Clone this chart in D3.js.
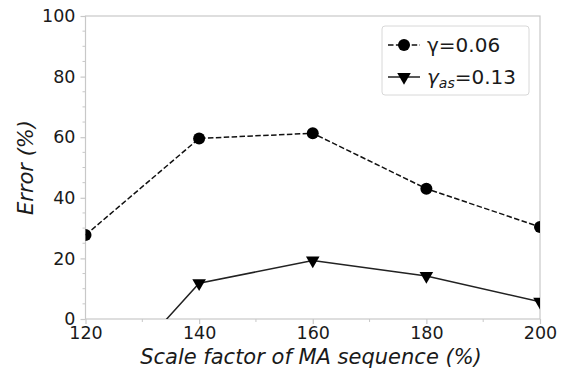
<!DOCTYPE html>
<html>
<head>
<meta charset="utf-8">
<script src="https://cdn.jsdelivr.net/npm/d3@7"></script>
<style>
  body { margin: 0; background: #fff; }
  text { font-family: "DejaVu Sans", sans-serif; fill: #1a1a1a; }
</style>
</head>
<body>
<script>
// values
var scaleFactor = [120, 140, 160, 180, 200];
var errGamma = [27.7, 59.6, 61.3, 43.0, 30.4];      // γ=0.06, dashed, circles
var errGammaAs = [-29.6, 11.8, 19.3, 14.2, 5.7];    // γ_as=0.13, solid, triangles
var xTicks = [120, 140, 160, 180, 200];
var yTicks = [0, 20, 40, 60, 80, 100];

var W = 564, H = 376;
var margin = {top: 16, right: 24, bottom: 57, left: 85.5};

var svg = d3.select("body").append("svg")
    .attr("width", W)
    .attr("height", H);

var xScale = d3.scaleLinear().domain([120, 200]).range([margin.left, W - margin.right]);
var yScale = d3.scaleLinear().domain([0, 100]).range([H - margin.bottom, margin.top]);

var spine = "#c8c8c8";

// clip to the plot box (markers at the edges are cut in half)
svg.append("defs").append("clipPath").attr("id", "plotclip")
  .append("rect")
    .attr("x", xScale(120)).attr("y", yScale(100))
    .attr("width", xScale(200) - xScale(120))
    .attr("height", yScale(0) - yScale(100));

// frame
svg.append("rect")
    .attr("x", xScale(120)).attr("y", yScale(100))
    .attr("width", xScale(200) - xScale(120))
    .attr("height", yScale(0) - yScale(100))
    .attr("fill", "none")
    .attr("stroke", spine)
    .attr("stroke-width", 1.2);

// minor ticks
var gx = svg.append("g").attr("transform", "translate(0," + yScale(0) + ")");
gx.selectAll("line.minor").data([130, 150, 170, 190]).enter().append("line")
    .attr("x1", function(d) { return xScale(d); }).attr("x2", function(d) { return xScale(d); })
    .attr("y1", 0).attr("y2", 3)
    .attr("stroke", spine).attr("stroke-width", 1);
var gy = svg.append("g").attr("transform", "translate(" + xScale(120) + ",0)");
gy.selectAll("line.minor").data(d3.range(5, 100, 5).filter(function(v) { return v % 20 != 0; })).enter().append("line")
    .attr("y1", function(d) { return yScale(d); }).attr("y2", function(d) { return yScale(d); })
    .attr("x1", 0).attr("x2", -3)
    .attr("stroke", spine).attr("stroke-width", 1);

// major axes
var xAxis = d3.axisBottom(xScale).tickValues(xTicks).tickSize(5).tickPadding(3).tickSizeOuter(0);
var yAxis = d3.axisLeft(yScale).tickValues(yTicks).tickSize(5).tickPadding(5).tickSizeOuter(0);

gx.call(xAxis);
gy.call(yAxis);
[gx, gy].forEach(function(g) {
    g.select(".domain").remove();
    g.selectAll(".tick line").attr("stroke", spine).attr("stroke-width", 1.2);
    g.selectAll(".tick text")
        .attr("fill", "#1a1a1a")
        .style("font-family", "'DejaVu Sans', sans-serif")
        .style("font-size", "17.5px");
});

// lines
var lineGen = d3.line()
    .x(function(d) { return xScale(d[0]); })
    .y(function(d) { return yScale(d[1]); });

var plot = svg.append("g").attr("clip-path", "url(#plotclip)");

var s1 = scaleFactor.map(function(x, i) { return [x, errGamma[i]]; });
var s2 = scaleFactor.map(function(x, i) { return [x, errGammaAs[i]]; });

plot.append("path")
    .attr("d", lineGen(s1))
    .attr("fill", "none")
    .attr("stroke", "#111")
    .attr("stroke-width", 1.5)
    .attr("stroke-dasharray", "5.5,2.4");

plot.append("path")
    .attr("d", lineGen(s2))
    .attr("fill", "none")
    .attr("stroke", "#222")
    .attr("stroke-width", 1.5);

plot.selectAll("circle.m").data(s1).enter().append("circle")
    .attr("cx", function(d) { return xScale(d[0]); })
    .attr("cy", function(d) { return yScale(d[1]); })
    .attr("r", 6)
    .attr("fill", "#000");

var tri = d3.symbol().type(d3.symbolTriangle).size(80);
plot.selectAll("path.t").data(s2).enter().append("path")
    .attr("d", tri)
    .attr("transform", function(d) { return "translate(" + xScale(d[0]) + "," + yScale(d[1]) + ") rotate(180)"; })
    .attr("fill", "#000");

// axis labels
svg.append("text")
    .attr("x", 311)
    .attr("y", 364)
    .attr("text-anchor", "middle")
    .style("font-size", "21px")
    .style("font-style", "italic")
    .text("Scale factor of MA sequence (%)");

svg.append("text")
    .attr("transform", "translate(33," + ((yScale(0) + yScale(100)) / 2) + ") rotate(-90)")
    .attr("text-anchor", "middle")
    .style("font-size", "21px")
    .style("font-style", "italic")
    .text("Error (%)");

// legend
var lg = svg.append("g").attr("transform", "translate(382,26)");
lg.append("rect")
    .attr("width", 147).attr("height", 69)
    .attr("rx", 3)
    .attr("fill", "#fff")
    .attr("stroke", "#d8d8d8")
    .attr("stroke-width", 1);

lg.append("line")
    .attr("x1", 6).attr("x2", 38).attr("y1", 19).attr("y2", 19)
    .attr("stroke", "#111").attr("stroke-width", 1.5)
    .attr("stroke-dasharray", "5.5,2.4");
lg.append("circle").attr("cx", 22).attr("cy", 19).attr("r", 6).attr("fill", "#000");
lg.append("text").attr("x", 45).attr("y", 26).style("font-size", "20px").text("γ=0.06");

lg.append("line")
    .attr("x1", 6).attr("x2", 38).attr("y1", 51).attr("y2", 51)
    .attr("stroke", "#222").attr("stroke-width", 1.5);
lg.append("path").attr("d", tri).attr("transform", "translate(22,51) rotate(180)").attr("fill", "#000");
var t2 = lg.append("text").attr("x", 45).attr("y", 58).style("font-size", "20px");
t2.append("tspan").style("font-style", "italic").text("γ");
t2.append("tspan").style("font-style", "italic").style("font-size", "14px").attr("dy", 4).text("as");
t2.append("tspan").attr("dy", -4).text("=0.13");
</script>
</body>
</html>
